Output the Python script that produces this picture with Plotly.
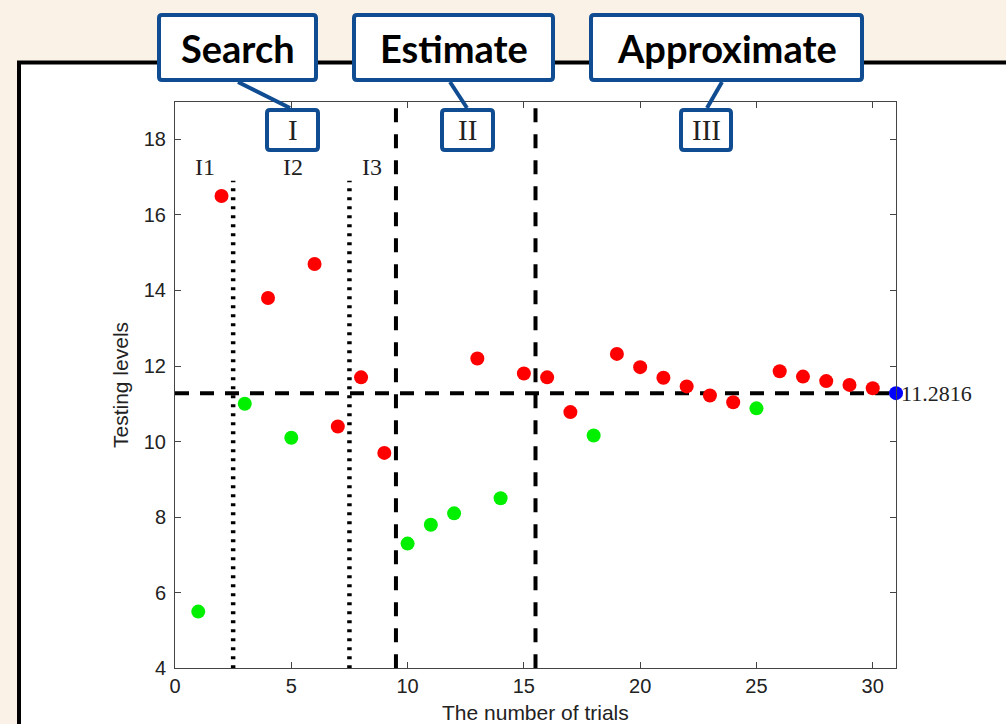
import plotly.graph_objects as go

W, H = 1006, 724

# ---- data ----
trials_above = [2, 4, 6, 7, 8, 9, 13, 15, 16, 17, 19, 20, 21, 22, 23, 24, 26, 27, 28, 29, 30]
levels_above = [16.5, 13.8, 14.7, 10.4, 11.7, 9.7, 12.2, 11.8, 11.7, 10.78, 12.32, 11.97,
                11.69, 11.46, 11.22, 11.04, 11.86, 11.72, 11.6, 11.5, 11.41]
trials_below = [1, 3, 5, 10, 11, 12, 14, 18, 25]
levels_below = [5.5, 11.0, 10.1, 7.3, 7.8, 8.1, 8.5, 10.16, 10.88]
final_trial = 31
final_level = 11.2816

search_splits = [2.5, 7.5]      # dotted sub-interval boundaries
search_split_top = 16.9
phase_splits = [9.5, 15.5]      # dashed phase boundaries
sub_labels = ["I1", "I2", "I3"]
sub_label_x = [1.29, 5.07, 8.47]
sub_label_y = 17.26

x_range = [0, 31]
y_range = [4, 19]
x_ticks = [0, 5, 10, 15, 20, 25, 30]
y_ticks = [4, 6, 8, 10, 12, 14, 16, 18]


def px(x):
    return x / W


def py(y):
    return 1 - y / H


fig = go.Figure()

# phase boundaries
for xs in phase_splits:
    fig.add_trace(go.Scatter(x=[xs, xs], y=y_range, mode="lines",
                             line=dict(color="black", width=4, dash="14px,12px"),
                             showlegend=False, hoverinfo="skip"))
# search sub-interval boundaries
for xs in search_splits:
    fig.add_trace(go.Scatter(x=[xs, xs], y=[y_range[0], search_split_top], mode="lines",
                             line=dict(color="black", width=4.5, dash="3px,6px"),
                             showlegend=False, hoverinfo="skip"))
# threshold line
fig.add_trace(go.Scatter(x=[0, final_trial], y=[final_level, final_level], mode="lines",
                         line=dict(color="black", width=4, dash="14px,11px"),
                         showlegend=False, hoverinfo="skip"))

fig.add_trace(go.Scatter(x=trials_above, y=levels_above, mode="markers",
                         marker=dict(color="#ff0000", size=14, line=dict(width=0)),
                         showlegend=False))
fig.add_trace(go.Scatter(x=trials_below, y=levels_below, mode="markers",
                         marker=dict(color="#00f000", size=14, line=dict(width=0)),
                         showlegend=False))
fig.add_trace(go.Scatter(x=[final_trial], y=[final_level], mode="markers",
                         marker=dict(color="#0000ff", size=14, line=dict(width=0)),
                         cliponaxis=False, showlegend=False))

annotations = []
for t, xv in zip(sub_labels, sub_label_x):
    annotations.append(dict(x=xv, y=sub_label_y, xref="x", yref="y", text=t, showarrow=False,
                            xanchor="center", yanchor="middle",
                            font=dict(family="Liberation Serif", size=24, color="#222")))
annotations.append(dict(x=px(899), y=py(393), xref="paper", yref="paper",
                        text=f"{final_level:.4f}", showarrow=False,
                        xanchor="left", yanchor="middle",
                        font=dict(family="Liberation Serif", size=22, color="#222")))
annotations.append(dict(x=px(535), y=py(712), xref="paper", yref="paper",
                        text="The number of trials", showarrow=False,
                        xanchor="center", yanchor="middle",
                        font=dict(family="Liberation Sans", size=21, color="#222")))
annotations.append(dict(x=px(121), y=py(385), xref="paper", yref="paper",
                        text="Testing levels", showarrow=False, textangle=-90,
                        xanchor="center", yanchor="middle",
                        font=dict(family="Liberation Sans", size=21, color="#222")))

blue = "#0f4c92"
shapes = []
# white framed panel behind the chart
shapes.append(dict(type="rect", xref="paper", yref="paper", layer="below",
                   x0=px(19), x1=px(1030), y0=py(760), y1=py(62.5),
                   fillcolor="white", line=dict(color="black", width=4)))

# callout connectors
connectors = [((238, 82), (290, 108)), ((450, 82), (467, 108)), ((722, 82), (707, 108))]
for (xa, ya), (xb, yb) in connectors:
    shapes.append(dict(type="line", xref="paper", yref="paper",
                       x0=px(xa), y0=py(ya), x1=px(xb), y1=py(yb),
                       line=dict(color=blue, width=4)))


def box_path(x0, y0, x1, y1, r=3):
    return (f"M{px(x0 + r)},{py(y0)} L{px(x1 - r)},{py(y0)} Q{px(x1)},{py(y0)} {px(x1)},{py(y0 + r)} "
            f"L{px(x1)},{py(y1 - r)} Q{px(x1)},{py(y1)} {px(x1 - r)},{py(y1)} "
            f"L{px(x0 + r)},{py(y1)} Q{px(x0)},{py(y1)} {px(x0)},{py(y1 - r)} "
            f"L{px(x0)},{py(y0 + r)} Q{px(x0)},{py(y0)} {px(x0 + r)},{py(y0)} Z")


phase_boxes = [("Search", (157, 13, 318, 82)),
               ("Estimate", (352, 13, 555, 82)),
               ("Approximate", (589, 13, 864, 82))]
roman_boxes = [("I", (265, 108, 320, 152)),
               ("II", (440, 108, 495, 152)),
               ("III", (679, 108, 733, 152))]

for label, (x0, y0, x1, y1) in phase_boxes:
    shapes.append(dict(type="path", xref="paper", yref="paper",
                       path=box_path(x0 + 2, y0 + 2, x1 - 2, y1 - 2),
                       fillcolor="white", line=dict(color=blue, width=4)))
    annotations.append(dict(x=px((x0 + x1) / 2), y=py((y0 + y1) / 2 + 1), xref="paper", yref="paper",
                            text=f"<b>{label}</b>", showarrow=False,
                            xanchor="center", yanchor="middle",
                            font=dict(family="Lato", size=38, color="black")))
for label, (x0, y0, x1, y1) in roman_boxes:
    shapes.append(dict(type="path", xref="paper", yref="paper",
                       path=box_path(x0 + 2, y0 + 2, x1 - 2, y1 - 2),
                       fillcolor="white", line=dict(color=blue, width=4)))
    annotations.append(dict(x=px((x0 + x1) / 2), y=py((y0 + y1) / 2), xref="paper", yref="paper",
                            text=label, showarrow=False,
                            xanchor="center", yanchor="middle",
                            font=dict(family="Liberation Serif", size=29, color="#222")))

axis_common = dict(showline=True, mirror="ticks", linecolor="#444", linewidth=1,
                   ticks="inside", ticklen=6, tickcolor="#444", showgrid=False,
                   zeroline=False, fixedrange=True, automargin=False,
                   tickfont=dict(family="Liberation Sans", size=20, color="#222"))

fig.update_layout(
    width=W, height=H,
    autosize=False,
    margin=dict(l=0, r=0, t=0, b=0, pad=0, autoexpand=False),
    paper_bgcolor="#fbf2e7",
    plot_bgcolor="white",
    xaxis=dict(range=x_range, tickvals=x_ticks, domain=[px(175), px(896)], **axis_common),
    yaxis=dict(range=y_range, tickvals=y_ticks, domain=[py(668.3), py(101.5)],
               ticklabelstandoff=4, **axis_common),
    shapes=shapes,
    annotations=annotations,
    showlegend=False,
)

fig.write_html("out.html")
